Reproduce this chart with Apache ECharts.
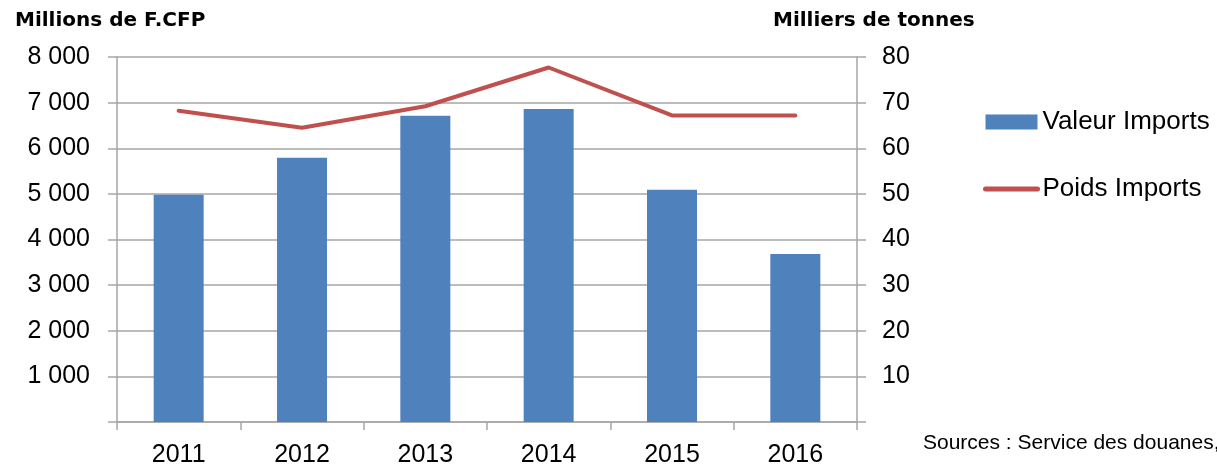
<!DOCTYPE html>
<html>
<head>
<meta charset="utf-8">
<script src="https://cdn.jsdelivr.net/npm/echarts@6/dist/echarts.min.js"></script>
<style>
  html, body { margin: 0; padding: 0; background: #fff; }
  #chart { width: 1217px; height: 468px; }
</style>
</head>
<body>
<div id="chart"></div>
<script>
  var years = ['2011', '2012', '2013', '2014', '2015', '2016'];
  var valeurImports = [4980, 5790, 6710, 6860, 5090, 3680];
  var poidsImports = [68.2, 64.5, 69.2, 77.7, 67.2, 67.2];

  var font = 'Liberation Sans';
  var boldFont = 'DejaVu Sans';
  var gray = '#a6a6a6';

  // 8000 -> "8 000", 0 hidden
  function spaced(v) {
    if (v === 0) return '';
    return String(v).replace(/\B(?=(\d{3})+(?!\d))/g, ' ');
  }

  var chart = echarts.init(document.getElementById('chart'));

  var option = {
    animation: false,
    textStyle: { fontFamily: font },
    title: [
      {
        text: 'Millions de F.CFP',
        left: 10, top: 6,
        textStyle: { fontFamily: boldFont, fontSize: 20, fontWeight: 'bold', color: '#000' }
      },
      {
        text: 'Milliers de tonnes',
        left: 768, top: 6,
        textStyle: { fontFamily: boldFont, fontSize: 20, fontWeight: 'bold', color: '#000' }
      },
      {
        text: 'Sources : Service des douanes,',
        left: 918, top: 428,
        textStyle: { fontFamily: font, fontSize: 21, fontWeight: 'normal', color: '#000' }
      }
    ],
    legend: {
      orient: 'vertical',
      left: 978, top: 104,
      itemGap: 41,
      itemWidth: 52,
      itemHeight: 15,
      textStyle: { fontFamily: font, fontSize: 26, color: '#000' },
      data: [
        { name: 'Valeur Imports', icon: 'rect' },
        {
          name: 'Poids Imports',
          itemStyle: { opacity: 0 },
          lineStyle: { width: 5, cap: 'round', color: '#c0504d' }
        }
      ]
    },
    grid: { left: 117, right: 360, top: 57, bottom: 45 },
    xAxis: {
      type: 'category',
      data: years,
      axisLine: { lineStyle: { color: gray, width: 1.5 } },
      axisTick: { show: true, length: 8, lineStyle: { color: gray, width: 1.5 } },
      axisLabel: { color: '#000', fontSize: 25, margin: 21, fontFamily: font }
    },
    yAxis: [
      {
        type: 'value',
        min: 0, max: 8000, interval: 1000,
        axisLine: { show: true, lineStyle: { color: gray, width: 1.5 } },
        axisTick: { show: true, length: 9, lineStyle: { color: gray, width: 1.5 } },
        splitLine: { lineStyle: { color: gray, width: 1.5 } },
        axisLabel: { color: '#000', fontSize: 25, margin: 27, fontFamily: font, formatter: spaced }
      },
      {
        type: 'value',
        min: 0, max: 80, interval: 10,
        axisLine: { show: true, lineStyle: { color: gray, width: 1.5 } },
        axisTick: { show: true, length: 9, lineStyle: { color: gray, width: 1.5 } },
        splitLine: { show: false },
        axisLabel: { color: '#000', fontSize: 25, margin: 25, fontFamily: font, formatter: spaced }
      }
    ],
    series: [
      {
        name: 'Valeur Imports',
        type: 'bar',
        yAxisIndex: 0,
        barWidth: 50,
        itemStyle: { color: '#4f81bd' },
        data: valeurImports
      },
      {
        name: 'Poids Imports',
        type: 'line',
        yAxisIndex: 1,
        symbol: 'none',
        lineStyle: { color: '#c0504d', width: 4, cap: 'round', join: 'round' },
        itemStyle: { color: '#c0504d' },
        data: poidsImports
      }
    ]
  };

  chart.setOption(option);
</script>
</body>
</html>
